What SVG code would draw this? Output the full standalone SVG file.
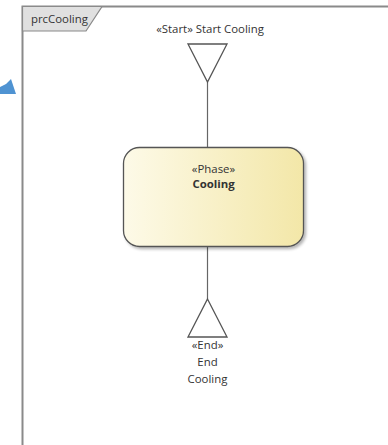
<svg xmlns="http://www.w3.org/2000/svg" width="388" height="445" viewBox="0 0 388 445">
  <defs>
    <linearGradient id="phaseFill" x1="0" y1="0" x2="1" y2="0">
      <stop offset="0" stop-color="#fdfae8"/>
      <stop offset="1" stop-color="#f3e7a8"/>
    </linearGradient>
    <filter id="shadow" x="-10%" y="-10%" width="130%" height="130%">
      <feGaussianBlur in="SourceAlpha" stdDeviation="1.5"/>
      <feOffset dx="1.5" dy="1.5"/>
      <feComponentTransfer><feFuncA type="linear" slope="0.3"/></feComponentTransfer>
      <feMerge><feMergeNode/><feMergeNode in="SourceGraphic"/></feMerge>
    </filter>
  </defs>
  <style>
    .lbl { font-family: "Open Sans", "Noto Sans", sans-serif; font-size: 11.4px; fill: #333333; }
    .bold { font-weight: bold; }
    .node { stroke: #555555; stroke-width: 1.3; }
    .conn { stroke: #666666; stroke-width: 1.2; fill: none; }
  </style>
  <rect width="388" height="445" fill="#ffffff"/>

  <!-- partial blue arrowhead at the left edge -->
  <polygon points="0,94 0,87 6,84 11,79 16,94" fill="#4f93d2"/>

  <!-- diagram frame -->
  <g id="frame">
    <path d="M22.5,445 V6.5 H388" fill="none" stroke="#8a8a8a" stroke-width="2"/>
    <path d="M22.5,6.5 H102 L86,31 H22.5 Z" fill="#e0e0e0" stroke="#8a8a8a" stroke-width="1.2"/>
    <text class="lbl" x="31" y="23">prcCooling</text>
  </g>

  <!-- connectors -->
  <g id="connectors">
    <line class="conn" x1="207.5" y1="82" x2="207.5" y2="147"/>
    <line class="conn" x1="207.5" y1="247" x2="207.5" y2="299"/>
  </g>

  <g id="start">
    <polygon class="node" points="188,44 227,44 207.5,82" fill="#ffffff"/>
    <text class="lbl" x="210" y="33" text-anchor="middle">«Start» Start Cooling</text>
  </g>

  <g id="phase">
    <rect class="node" x="123.5" y="147.5" width="180" height="99" rx="16" fill="url(#phaseFill)" filter="url(#shadow)"/>
    <text class="lbl" x="213.5" y="173" text-anchor="middle">«Phase»</text>
    <text class="lbl bold" x="213.5" y="188" text-anchor="middle">Cooling</text>
  </g>

  <g id="end">
    <polygon class="node" points="207.5,299 227,337 188,337" fill="#ffffff"/>
    <text class="lbl" x="207.5" y="349" text-anchor="middle">«End»</text>
    <text class="lbl" x="207.5" y="366" text-anchor="middle">End</text>
    <text class="lbl" x="207.5" y="383" text-anchor="middle">Cooling</text>
  </g>
</svg>
